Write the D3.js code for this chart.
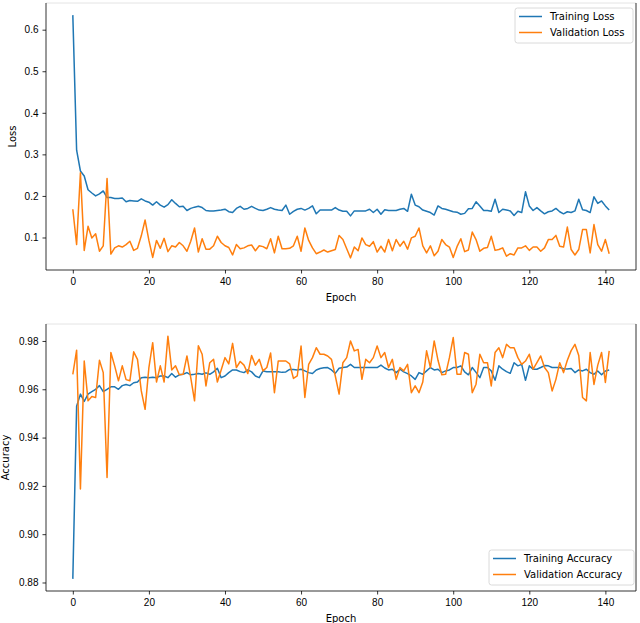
<!DOCTYPE html>
<meta charset="utf-8">
<style>

    body {
        margin: 0;
        background: #fff;
    }

    svg {
        font-family: "DejaVu Sans", sans-serif;
        font-size: 10px;
    }

    .axis path,
    .axis line {
        stroke: #000;
        stroke-width: 0.8px;
    }

    .axis text {
        fill: #000;
        font-size: 10px;
    }

    .series {
        fill: none;
        stroke-width: 1.5px;
        stroke-linejoin: round;
    }

</style>
<svg width="640" height="623"></svg>
<script src="https://d3js.org/d3.v7.min.js"></script>
<script>
    var trainLoss = [
        0.635, 0.31, 0.26, 0.248, 0.215, 0.207, 0.2, 0.205, 0.212, 0.196,
        0.196, 0.194, 0.194, 0.195, 0.186, 0.189, 0.188, 0.187, 0.193, 0.188,
        0.185, 0.178, 0.186, 0.178, 0.173, 0.179, 0.191, 0.182, 0.174, 0.175,
        0.165, 0.17, 0.173, 0.175, 0.172, 0.165, 0.164, 0.164, 0.165, 0.166,
        0.168, 0.162, 0.160, 0.170, 0.175, 0.168, 0.170, 0.175, 0.170, 0.166,
        0.165, 0.168, 0.172, 0.168, 0.166, 0.165, 0.178, 0.156, 0.163, 0.168,
        0.170, 0.166, 0.170, 0.176, 0.157, 0.166, 0.166, 0.166, 0.166, 0.172,
        0.166, 0.163, 0.163, 0.152, 0.164, 0.164, 0.164, 0.164, 0.168, 0.160,
        0.168, 0.156, 0.167, 0.165, 0.165, 0.165, 0.168, 0.170, 0.163, 0.204,
        0.178, 0.174, 0.166, 0.163, 0.16, 0.154, 0.176, 0.17, 0.168, 0.165,
        0.162, 0.161, 0.156, 0.158, 0.169, 0.17, 0.186, 0.176, 0.165, 0.165,
        0.163, 0.192, 0.16, 0.168, 0.166, 0.164, 0.153, 0.163, 0.16, 0.21,
        0.176, 0.165, 0.172, 0.164, 0.157, 0.162, 0.164, 0.17, 0.162, 0.157,
        0.162, 0.16, 0.164, 0.192, 0.167, 0.165, 0.16, 0.198, 0.182, 0.188,
        0.176, 0.166
    ];

    var valLoss = [
        0.168, 0.083, 0.256, 0.069, 0.127, 0.099, 0.109, 0.067, 0.08, 0.242,
        0.06, 0.075, 0.08, 0.077, 0.083, 0.091, 0.069, 0.074, 0.104, 0.142,
        0.093, 0.052, 0.093, 0.074, 0.098, 0.066, 0.08, 0.077, 0.088, 0.08,
        0.067, 0.091, 0.123, 0.065, 0.097, 0.072, 0.072, 0.08, 0.103, 0.088,
        0.08, 0.076, 0.058, 0.083, 0.073, 0.075, 0.08, 0.082, 0.068, 0.08,
        0.078, 0.073, 0.097, 0.063, 0.103, 0.073, 0.073, 0.074, 0.08, 0.103,
        0.067, 0.123, 0.093, 0.075, 0.061, 0.065, 0.07, 0.065, 0.068, 0.071,
        0.105, 0.095, 0.073, 0.051, 0.077, 0.068, 0.099, 0.083, 0.079, 0.09,
        0.065, 0.079, 0.065, 0.095, 0.068, 0.095, 0.079, 0.091, 0.072, 0.099,
        0.103, 0.123, 0.08, 0.063, 0.08, 0.056, 0.067, 0.095, 0.083, 0.077,
        0.052, 0.078, 0.097, 0.066, 0.07, 0.113, 0.095, 0.067, 0.074, 0.076,
        0.103, 0.069, 0.071, 0.075, 0.055, 0.061, 0.058, 0.075, 0.075, 0.08,
        0.069, 0.077, 0.077, 0.067, 0.075, 0.095, 0.095, 0.105, 0.079, 0.077,
        0.125, 0.071, 0.058, 0.071, 0.119, 0.119, 0.063, 0.131, 0.083, 0.067,
        0.095, 0.061
    ];

    var trainAcc = [
        0.8815, 0.953, 0.958, 0.955, 0.958, 0.959, 0.960, 0.9615, 0.959, 0.960,
        0.961, 0.961, 0.960, 0.9615, 0.962, 0.9615, 0.9627, 0.963, 0.9648, 0.965,
        0.9648, 0.965, 0.9648, 0.9655, 0.9655, 0.9648, 0.9665, 0.965, 0.966, 0.9662,
        0.9669, 0.966, 0.9662, 0.9665, 0.9662, 0.9668, 0.9662, 0.9672, 0.9687, 0.9648,
        0.9655, 0.9669, 0.968, 0.968, 0.9673, 0.9669, 0.968, 0.9672, 0.9655, 0.9648,
        0.9676, 0.9673, 0.9673, 0.9673, 0.9673, 0.967, 0.9672, 0.9682, 0.9682, 0.968,
        0.9683, 0.9676, 0.9669, 0.9665, 0.968, 0.9686, 0.9689, 0.969, 0.968, 0.9666,
        0.9687, 0.969, 0.9692, 0.9703, 0.969, 0.969, 0.969, 0.969, 0.969, 0.969,
        0.969, 0.97, 0.9688, 0.968, 0.9683, 0.9669, 0.9683, 0.9672, 0.9665, 0.9655,
        0.9641, 0.9669, 0.9662, 0.9676, 0.969, 0.968, 0.9683, 0.9669, 0.9676, 0.968,
        0.969, 0.969, 0.9697, 0.9672, 0.966, 0.969, 0.967, 0.9648, 0.969, 0.969,
        0.9676, 0.9637, 0.9697, 0.9683, 0.9673, 0.9666, 0.971, 0.9697, 0.9703, 0.9637,
        0.9697, 0.9683, 0.9683, 0.969, 0.9698, 0.9697, 0.969, 0.969, 0.969, 0.9685,
        0.9684, 0.9686, 0.9669, 0.968, 0.9676, 0.9683, 0.9669, 0.9662, 0.9676, 0.966,
        0.9676, 0.968
    ];

    var valAcc = [
        0.9662, 0.9762, 0.9187, 0.9717, 0.9552, 0.957, 0.9566, 0.972, 0.9669, 0.9235,
        0.9752, 0.9697, 0.9635, 0.9697, 0.964, 0.9635, 0.9755, 0.9724, 0.9593, 0.9517,
        0.969, 0.9793, 0.963, 0.9697, 0.963, 0.982, 0.968, 0.9697, 0.966, 0.9662,
        0.9738, 0.9648, 0.9552, 0.978, 0.9745, 0.9614, 0.971, 0.9724, 0.963, 0.968,
        0.9731, 0.9705, 0.979, 0.969, 0.9715, 0.970, 0.9665, 0.974, 0.970, 0.9724,
        0.9676, 0.969, 0.975, 0.9586, 0.9717, 0.9717, 0.9717, 0.9705, 0.9645, 0.9655,
        0.9779, 0.9566, 0.9703, 0.9731, 0.9772, 0.9745, 0.9745, 0.9738, 0.9724, 0.9655,
        0.958, 0.971, 0.9731, 0.98, 0.9759, 0.9765, 0.9641, 0.9724, 0.971, 0.9731,
        0.9779, 0.9731, 0.9752, 0.969, 0.9724, 0.9641, 0.969, 0.9676, 0.9703, 0.9586,
        0.9614, 0.9586, 0.963, 0.9759, 0.969, 0.980, 0.972, 0.966, 0.9662, 0.9731,
        0.9814, 0.9662, 0.9662, 0.9752, 0.9745, 0.9586, 0.9621, 0.9745, 0.971, 0.971,
        0.9614, 0.9752, 0.9772, 0.9731, 0.9786, 0.9772, 0.9772, 0.9731, 0.9703, 0.9717,
        0.9745, 0.9683, 0.971, 0.9738, 0.969, 0.9669, 0.9593, 0.9641, 0.971, 0.9669,
        0.972, 0.976, 0.9786, 0.974, 0.9566, 0.9552, 0.9752, 0.962, 0.970, 0.9752,
        0.9628, 0.9759
    ];

    var epochTicks = [0, 20, 40, 60, 80, 100, 120, 140];
    var lossTicks = [0.1, 0.2, 0.3, 0.4, 0.5, 0.6];
    var accTicks = [0.88, 0.90, 0.92, 0.94, 0.96, 0.98];

    var svg = d3.select("svg"),
        left = 46,
        right = 636;

    var colors = ["#1f77b4", "#ff7f0e"];

    // matplotlib style: pad the data range by 5% on each side
    function padded(lo, hi) {
        var m = (hi - lo) * 0.05;
        return [lo - m, hi + m];
    }

    function drawPanel(cfg) {
        var n = cfg.series[0].values.length;
        var x = d3.scaleLinear()
            .domain(padded(0, n - 1))
            .range([left, right]);

        var all = d3.merge(cfg.series.map(function (s) { return s.values; }));
        var y = d3.scaleLinear()
            .domain(padded(d3.min(all), d3.max(all)))
            .range([cfg.bottom, cfg.top]);

        var g = svg.append("g");

        // faint top spine, black right spine
        g.append("line")
            .attr("x1", left).attr("x2", right)
            .attr("y1", cfg.top).attr("y2", cfg.top)
            .style("stroke", "#e4e4e4");
        g.append("line")
            .attr("x1", right).attr("x2", right)
            .attr("y1", cfg.top).attr("y2", cfg.bottom)
            .style("stroke", "#000")
            .style("stroke-width", 0.8);

        var line = d3.line()
            .x(function (d, i) { return x(i); })
            .y(function (d) { return y(d); });

        g.selectAll(".series")
            .data(cfg.series)
            .enter().append("path")
            .attr("class", "series")
            .style("stroke", function (d, i) { return colors[i]; })
            .attr("d", function (d) { return line(d.values); });

        g.append("g")
            .attr("class", "axis")
            .attr("transform", "translate(0," + cfg.bottom + ")")
            .call(d3.axisBottom(x).tickValues(epochTicks).tickSize(3.5).tickPadding(4).tickSizeOuter(0));

        g.append("g")
            .attr("class", "axis")
            .attr("transform", "translate(" + left + ",0)")
            .call(d3.axisLeft(y).tickValues(cfg.ticks).tickSize(3.5).tickPadding(4).tickSizeOuter(0)
                .tickFormat(d3.format(cfg.fmt)));

        g.selectAll(".axis .domain")
            .attr("d", null);
        g.append("line")
            .attr("x1", left).attr("x2", right)
            .attr("y1", cfg.bottom).attr("y2", cfg.bottom)
            .style("stroke", "#000").style("stroke-width", 0.8);
        g.append("line")
            .attr("x1", left).attr("x2", left)
            .attr("y1", cfg.top).attr("y2", cfg.bottom)
            .style("stroke", "#000").style("stroke-width", 0.8);

        g.append("text")
            .attr("x", (left + right) / 2)
            .attr("y", cfg.bottom + 31)
            .attr("text-anchor", "middle")
            .text("Epoch");

        g.append("text")
            .attr("transform", "translate(" + cfg.ylabelX + "," + (cfg.top + cfg.bottom) / 2 + ") rotate(-90)")
            .attr("text-anchor", "middle")
            .text(cfg.ylabel);

        // legend
        var lg = g.append("g")
            .attr("transform", "translate(" + cfg.legend[0] + "," + cfg.legend[1] + ")");
        lg.append("rect")
            .attr("width", cfg.legend[2])
            .attr("height", 35)
            .attr("rx", 2.5)
            .style("fill", "#fff")
            .style("fill-opacity", 0.8)
            .style("stroke", "#d0d0d0")
            .style("stroke-width", 0.8);
        var item = lg.selectAll(".item")
            .data(cfg.series)
            .enter().append("g")
            .attr("transform", function (d, i) { return "translate(4," + (8.5 + i * 16) + ")"; });
        item.append("line")
            .attr("x2", 23)
            .style("stroke", function (d, i) { return colors[i]; })
            .style("stroke-width", 1.5);
        item.append("text")
            .attr("x", 31)
            .attr("dy", "0.35em")
            .text(function (d) { return d.name; });
    }

    drawPanel({
        top: 3,
        bottom: 270,
        series: [
            {name: "Training Loss", values: trainLoss},
            {name: "Validation Loss", values: valLoss}
        ],
        ticks: lossTicks,
        fmt: ".1f",
        ylabel: "Loss",
        ylabelX: 16,
        legend: [515, 8, 118]
    });

    drawPanel({
        top: 324,
        bottom: 591,
        series: [
            {name: "Training Accuracy", values: trainAcc},
            {name: "Validation Accuracy", values: valAcc}
        ],
        ticks: accTicks,
        fmt: ".2f",
        ylabel: "Accuracy",
        ylabelX: 9,
        legend: [489, 550, 145]
    });

</script>
